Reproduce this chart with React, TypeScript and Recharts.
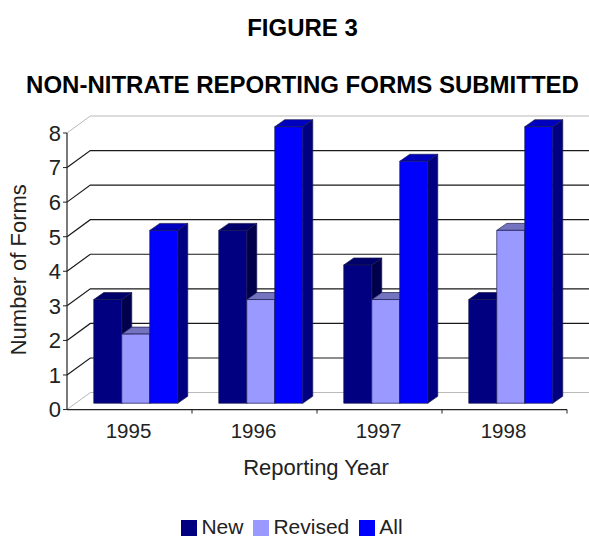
import React from "react";
import { Bar, BarChart, CartesianGrid, Legend, XAxis, YAxis } from "recharts";

const years = ["1995", "1996", "1997", "1998"];
const newForms = [3, 5, 4, 3];
const revisedForms = [2, 3, 3, 5];
const allForms = [5, 8, 7, 8];
const yTicks = [0, 1, 2, 3, 4, 5, 6, 7, 8];

const data = years.map((year, i) => ({
  year,
  New: newForms[i],
  Revised: revisedForms[i],
  All: allForms[i],
}));

const FONT = "'Liberation Sans', Arial, sans-serif";

// the back wall sits this far behind the axes
const WALL_DX = 23.3;
const WALL_DY = -17;
// bars stand a bit behind the front edge of the floor
const BAR_DX = 5.5;
const BAR_DY = -6.3;
// depth of the bars themselves
const DEPTH_X = 10;
const DEPTH_Y = -7;

function bar3d(front: string, top: string, side: string) {
  return (props: any) => {
    const x = props.x + BAR_DX;
    const y = props.y + BAR_DY;
    const w = props.width;
    const h = props.height;
    return (
      <g stroke="#1a1a4d" strokeWidth={0.7} strokeLinejoin="round">
        <path
          d={`M${x + w},${y} l${DEPTH_X},${DEPTH_Y} v${h} l${-DEPTH_X},${-DEPTH_Y} z`}
          fill={side}
        />
        <path
          d={`M${x},${y} l${DEPTH_X},${DEPTH_Y} h${w} l${-DEPTH_X},${-DEPTH_Y} z`}
          fill={top}
        />
        <rect x={x} y={y} width={w} height={h} fill={front} />
      </g>
    );
  };
}

// gridline runs up the side wall and then across the back wall
function gridLine(props: any) {
  const { x1, x2, y1, index } = props;
  const edge = index === 0 || index === yTicks.length - 1;
  return (
    <path
      key={`grid-${index}`}
      d={`M${x1},${y1} l${WALL_DX},${WALL_DY} H${x2 + WALL_DX}`}
      fill="none"
      stroke={edge ? "#b8b8b8" : "#1a1a1a"}
      strokeWidth={edge ? 1 : 1.2}
    />
  );
}

function yearTick(props: any) {
  const { x, y, payload } = props;
  return (
    <g>
      <line x1={x + 62.5} x2={x + 62.5} y1={y - 8} y2={y - 4} stroke="#222" />
      <text x={x - 1} y={y + 20} textAnchor="middle" fontSize={20.5} fill="#222" fontFamily={FONT}>
        {payload.value}
      </text>
    </g>
  );
}

const titleStyle: React.CSSProperties = {
  position: "absolute",
  left: 0,
  width: 589,
  textAlign: "center",
  fontFamily: FONT,
  fontWeight: "bold",
  color: "#000",
  fontSize: 24,
  whiteSpace: "nowrap",
};

export default function App() {
  return (
    <div style={{ position: "absolute", left: 0, top: 0, width: 589, height: 536, background: "#fff" }}>
      <div style={{ ...titleStyle, top: 14, left: 8 }}>FIGURE 3</div>
      <div style={{ ...titleStyle, top: 71, left: 8 }}>NON-NITRATE REPORTING FORMS SUBMITTED</div>
      <BarChart
        width={589}
        height={536}
        data={data}
        margin={{ top: 133, right: 22, bottom: 78, left: 0 }}
        barGap={0}
        barCategoryGap="17%"
      >
        <CartesianGrid vertical={false} horizontal={gridLine} />
        <XAxis
          dataKey="year"
          tick={yearTick}
          tickLine={false}
          axisLine={{ stroke: "#222", strokeWidth: 1.2 }}
          label={{ value: "Reporting Year", position: "insideTop", dy: 45, dx: -1, fontSize: 22, fill: "#222", fontFamily: FONT }}
        />
        <YAxis
          width={67}
          domain={[0, 8]}
          ticks={yTicks}
          interval={0}
          tickSize={4}
          tick={{ fontSize: 22, fill: "#222", fontFamily: FONT }}
          tickLine={{ stroke: "#222" }}
          axisLine={{ stroke: "#222", strokeWidth: 1.2 }}
          label={{ value: "Number of Forms", angle: -90, position: "insideLeft", dx: 13, dy: 84, fontSize: 22, fill: "#222", fontFamily: FONT }}
        />
        <Legend
          verticalAlign="bottom"
          iconType="square"
          iconSize={16}
          itemSorter={null}
          wrapperStyle={{ bottom: 0, left: 6, width: 582, fontFamily: FONT, fontSize: 21, lineHeight: "18px" }}
          formatter={(value: string) => <span style={{ color: "#222" }}>{value}</span>}
        />
        <Bar dataKey="New" fill="#000080" isAnimationActive={false} shape={bar3d("#000080", "#00006a", "#00004d")} />
        <Bar dataKey="Revised" fill="#9999ff" isAnimationActive={false} shape={bar3d("#9999ff", "#7373bf", "#4d4d80")} />
        <Bar dataKey="All" fill="#0000ff" isAnimationActive={false} shape={bar3d("#0000ff", "#0000bf", "#000080")} />
      </BarChart>
    </div>
  );
}
